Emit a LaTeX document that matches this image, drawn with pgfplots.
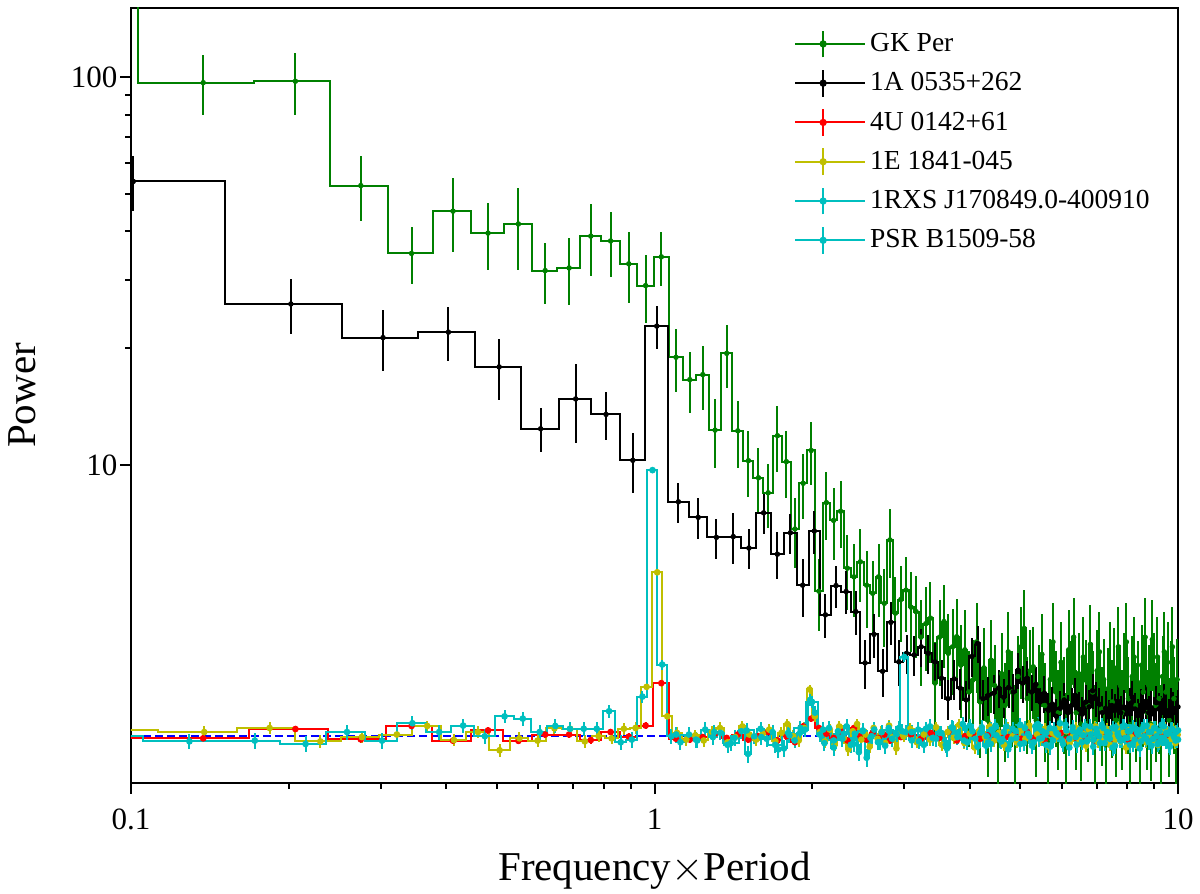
\documentclass[border=0pt]{standalone}
\usepackage{fontspec}
\setmainfont{Liberation Serif}
\usepackage{pgfplots}
\pgfplotsset{compat=1.18}
\usepackage{pgfplotstable}
\usetikzlibrary{calc}

\definecolor{gkgreen}{RGB}{0,128,0}
\definecolor{yel}{RGB}{191,191,0}
\definecolor{cyn}{RGB}{0,191,191}

% GK Per: bin centre, power, error (bins 0.0687 wide)
\pgfplotstableread{
x y e
0.0687 300 40
0.1374 96.7 17
0.2061 97.5 17.5
0.2748 52.5 10
0.3435 35.1 5.9
0.4122 45.1 9.8
0.4809 39.6 7.7
0.5496 41.8 10
0.6183 31.7 5.7
0.6870 32.2 6.3
0.7557 38.9 8.2
0.8244 37.8 7.2
0.8931 33.0 6.9
0.9618 29.0 5.8
1.0305 34.4 5.5
1.0992 18.95 3.5
1.1679 16.6 3.0
1.2366 17.1 3.2
1.3053 12.3 2.5
1.3740 19.4 3.6
1.4427 12.25 2.4
1.5114 10.26 2.0
1.5801 9.27 1.8
1.6488 8.48 1.6
1.7175 11.9 2.3
1.7862 10.2 2.0
1.8549 6.84 1.4
1.9236 8.97 1.7
1.9923 10.9 2.0
2.0610 4.73 1.0
2.1297 8.0 1.6
2.1984 7.2 1.5
2.2671 7.6 1.5
2.3358 5.42 1.2
2.4045 5.15 1.1
2.4732 5.63 1.2
2.5419 4.9 1.1
2.6106 4.67 1.0
2.6793 5.15 1.1
2.7480 4.4 1.0
2.8167 6.41 1.3
2.8854 4.15 1.0
2.9541 4.5 1.0
3.0228 4.76 1.05
3.0915 4.3 1.0
3.1602 4.19 1.0
3.2289 3.6 0.9
3.2976 3.9 0.95
3.3663 4.03 0.95
3.4350 2.74 0.75
3.5037 3.6 0.9
3.5724 3.95 0.95
3.6411 3.27 0.85
3.7098 3.4 0.85
3.7785 3.61 0.9
3.847 3.05 0.82
3.916 3.34 0.88
3.985 2.6 0.72
4.053 2.79 0.76
4.122 3.5 0.92
4.191 2.45 0.69
4.259 3.0 0.81
4.328 2.2 0.63
4.397 3.14 0.84
4.466 2.7 0.74
4.534 2.05 0.6
4.603 2.9 0.79
4.672 2.4 0.68
4.740 3.3 0.88
4.809 2.6 0.72
4.878 2.1 0.61
4.946 2.85 0.78
5.015 3.4 0.9
5.084 3.79 0.98
5.152 2.5 0.7
5.221 2.95 0.8
5.290 3.02 0.81
5.359 2.2 0.63
5.427 2.7 0.74
5.496 3.25 0.87
5.565 2.4 0.68
5.633 1.95 0.58
5.702 2.8 0.77
5.771 3.5 0.92
5.839 2.6 0.72
5.908 2.3 0.66
5.977 3.1 0.83
6.046 2.5 0.7
6.114 2.0 0.59
6.183 3.34 0.88
6.252 2.75 0.76
6.320 3.6 0.94
6.389 2.3 0.66
6.458 2.9 0.79
6.526 2.15 0.62
6.595 3.2 0.85
6.664 2.79 0.76
6.733 2.4 0.68
6.801 3.45 0.91
6.870 2.6 0.72
6.939 2.1 0.61
7.007 2.95 0.8
7.076 3.3 0.88
7.145 2.35 0.67
7.213 2.8 0.77
7.282 1.9 0.57
7.351 2.65 0.73
7.420 3.1 0.83
7.488 2.45 0.69
7.557 3.0 0.81
7.626 2.2 0.63
7.694 3.4 0.9
7.763 2.7 0.74
7.832 2.3 0.66
7.900 2.9 0.79
7.969 3.5 0.92
8.038 2.5 0.7
8.107 2.05 0.6
8.175 2.85 0.78
8.244 3.2 0.85
8.313 2.4 0.68
8.381 2.75 0.76
8.450 2.0 0.59
8.519 3.05 0.82
8.587 2.6 0.72
8.656 3.6 0.94
8.725 2.3 0.66
8.794 2.7 0.74
8.862 2.15 0.62
8.931 3.55 0.93
9.000 2.9 0.79
9.068 2.4 0.68
9.137 3.2 0.85
9.206 2.5 0.7
9.274 2.1 0.61
9.343 2.85 0.78
9.412 3.3 0.88
9.480 2.6 0.72
9.549 3.1 0.83
9.618 2.2 0.63
9.687 2.75 0.76
9.755 3.4 0.9
9.824 2.5 0.7
9.893 2.0 0.59
9.961 2.8 0.77
10.030 2.8 0.77
}\gkper

% 1A 0535+262: bin centre, power, error (bins 0.101 wide)
\pgfplotstableread{
x y e
0.101 53.8 8.7
0.202 26.0 4.2
0.303 21.3 3.8
0.404 22.0 3.5
0.505 17.9 3.2
0.606 12.4 1.6
0.707 14.8 3.4
0.808 13.5 1.9
0.909 10.28 1.8
1.010 22.8 2.9
1.111 8.04 0.97
1.212 7.33 0.88
1.313 6.51 0.77
1.414 6.54 0.98
1.515 6.11 0.73
1.616 7.53 0.88
1.717 5.89 0.82
1.818 6.69 0.8
1.919 4.9 0.84
2.020 6.76 0.85
2.121 4.11 0.53
2.222 4.89 0.6
2.323 4.72 0.6
2.424 4.19 0.55
2.525 3.09 0.45
2.626 3.66 0.48
2.727 2.94 0.42
2.828 3.93 0.5
2.929 3.11 0.42
3.030 3.27 0.38
3.131 3.24 0.38
3.232 3.40 0.38
3.333 3.27 0.38
3.434 3.11 0.36
3.535 2.82 0.33
3.636 2.50 0.3
3.737 2.81 0.33
3.838 2.66 0.32
3.939 2.48 0.3
4.040 3.21 0.37
4.141 3.47 0.38
4.242 2.50 0.3
4.343 2.55 0.3
4.444 2.58 0.3
4.545 2.66 0.3
4.646 2.52 0.29
4.747 2.67 0.3
4.848 2.60 0.29
4.949 2.96 0.32
5.050 2.74 0.3
5.151 2.82 0.3
5.252 2.60 0.28
5.353 2.72 0.29
5.454 2.45 0.27
5.555 2.58 0.28
5.656 2.33 0.26
5.757 2.42 0.26
5.858 2.25 0.25
5.959 2.36 0.26
6.060 2.48 0.27
6.161 2.30 0.25
6.262 2.40 0.26
6.363 2.55 0.27
6.464 2.35 0.25
6.565 2.28 0.25
6.666 2.45 0.26
6.767 2.38 0.25
6.868 2.62 0.27
6.969 2.50 0.26
7.070 2.42 0.25
7.171 2.30 0.24
7.272 2.36 0.25
7.373 2.24 0.24
7.474 2.40 0.25
7.575 2.33 0.24
7.676 2.46 0.25
7.777 2.30 0.24
7.878 2.38 0.25
7.979 2.28 0.24
8.080 2.42 0.25
8.181 2.52 0.26
8.282 2.35 0.24
8.383 2.26 0.24
8.484 2.40 0.25
8.585 2.32 0.24
8.686 2.46 0.25
8.787 2.30 0.24
8.888 2.37 0.24
8.989 2.28 0.24
9.090 2.44 0.25
9.191 2.35 0.24
9.292 2.30 0.24
9.393 2.48 0.25
9.494 2.33 0.24
9.595 2.26 0.24
9.696 2.41 0.25
9.797 2.36 0.24
9.898 2.30 0.24
9.999 2.38 0.25
10.100 2.38 0.25
}\onea

% 4U 0142+61
\pgfplotstableread{
x y
0.0687 1.97
0.1374 1.975
0.2061 2.087
0.2748 1.963
0.3435 2.125
0.4122 1.948
0.4809 2.07
0.5496 1.946
0.6183 2.02
0.6870 2.02
0.7557 1.955
0.8244 2.05
0.8931 1.995
0.9618 2.13
1.0305 2.74
1.0992 1.97
1.1679 1.96
1.2366 1.99
1.3053 2.03
1.3740 1.98
1.4427 2.02
1.5114 1.96
1.5801 2.0
1.6488 2.05
1.7175 1.95
1.7862 2.0
1.8549 1.93
1.9236 2.12
1.9923 2.22
2.0610 2.1
2.1297 2.03
2.1984 1.98
2.2671 2.06
2.3358 1.95
2.4045 2.1
2.4732 2.0
2.5419 1.96
2.6106 2.04
2.6793 1.98
2.7480 2.02
2.8167 1.95
2.8854 2.03
2.9541 1.99
3.09 2.02
3.23 1.97
3.37 2.04
3.50 1.98
3.64 2.05
3.78 1.95
3.92 2.0
4.06 2.03
4.19 1.97
4.33 2.01
4.47 1.96
4.60 2.04
4.74 1.99
4.88 2.02
5.02 1.97
5.15 2.05
5.29 1.98
5.43 2.0
5.56 1.95
5.70 2.03
5.84 1.99
5.98 2.04
6.11 1.96
6.25 2.01
6.39 1.98
6.53 2.05
6.66 1.97
6.80 2.0
6.94 1.95
7.08 2.03
7.21 1.99
7.35 2.06
7.49 1.97
7.63 2.01
7.76 1.98
7.90 2.04
8.04 1.96
8.18 2.0
8.31 2.03
8.45 1.97
8.59 2.02
8.73 1.98
8.86 2.05
9.00 1.99
9.14 1.96
9.28 2.02
9.41 2.0
9.55 1.97
9.69 2.04
9.83 1.99
9.96 2.01
}\fouru

% 1E 1841-045
\pgfplotstableread{
x y
0.046 2.07
0.092 2.07
0.138 2.05
0.184 2.10
0.230 1.94
0.276 1.99
0.322 2.02
0.368 2.125
0.414 1.955
0.460 2.05
0.506 1.84
0.552 1.975
0.598 1.948
0.644 2.095
0.690 2.09
0.736 1.94
0.782 2.0
0.828 1.975
0.874 2.09
0.920 2.1
0.966 2.68
1.012 5.29
1.058 2.25
1.104 2.04
1.150 1.96
1.196 2.01
1.242 1.95
1.288 2.05
1.334 2.1
1.380 1.93
1.426 1.99
1.472 2.12
1.518 2.02
1.564 1.96
1.610 2.03
1.656 2.08
1.702 1.94
1.748 2.04
1.794 2.15
1.840 2.0
1.886 1.95
1.932 2.1
1.978 2.64
2.024 2.25
2.070 2.05
2.116 1.94
2.162 2.08
2.208 1.9
2.254 2.12
2.300 1.98
2.346 1.85
2.392 2.06
2.438 2.15
2.484 1.96
2.530 2.02
2.576 1.88
2.622 2.1
2.668 1.97
2.714 2.05
2.760 1.92
2.806 2.13
2.852 1.99
2.898 1.86
2.944 2.04
2.990 2.0
3.08 2.09
3.17 1.93
3.27 2.02
3.36 1.96
3.45 2.11
3.54 1.9
3.63 2.05
3.73 1.98
3.82 2.14
3.91 1.92
4.00 2.03
4.09 1.87
4.19 2.08
4.28 1.99
4.37 2.12
4.46 1.95
4.55 2.04
4.65 1.9
4.74 2.1
4.83 2.0
4.92 1.93
5.01 2.07
5.11 1.97
5.20 2.13
5.29 1.91
5.38 2.02
5.47 1.96
5.57 2.09
5.66 1.88
5.75 2.04
5.84 1.99
5.93 2.11
6.03 1.94
6.12 2.06
6.21 1.92
6.30 2.0
6.39 2.1
6.49 1.95
6.58 2.03
6.67 1.89
6.76 2.08
6.85 1.97
6.95 2.12
7.04 1.93
7.13 2.05
7.22 1.98
7.31 2.09
7.41 1.9
7.50 2.02
7.59 1.96
7.68 2.11
7.77 1.94
7.87 2.04
7.96 1.87
8.05 2.07
8.14 1.99
8.23 2.1
8.33 1.92
8.42 2.03
8.51 1.96
8.60 2.08
8.69 1.93
8.79 2.01
8.88 2.12
8.97 1.95
9.06 2.05
9.15 1.9
9.25 2.06
9.34 1.98
9.43 2.1
9.52 1.94
9.61 2.03
9.71 1.97
9.80 2.09
9.89 1.92
9.98 2.02
}\onee

% 1RXS J170849.0-400910
\pgfplotstableread{
x y
0.0431 2.0
0.0862 2.0
0.1293 1.94
0.1724 1.948
0.2155 1.91
0.2586 2.05
0.3017 1.948
0.3448 2.16
0.3879 2.05
0.4310 2.13
0.4741 2.0
0.5172 2.25
0.5603 2.22
0.6034 2.05
0.6465 2.125
0.6896 2.09
0.7327 2.09
0.7758 2.09
0.8189 2.32
0.8620 1.93
0.9051 1.96
0.9482 2.53
0.9913 9.7
1.0344 3.06
1.0775 2.0
1.1206 1.93
1.1637 2.02
1.2068 1.95
1.2499 2.08
1.2930 1.99
1.3361 2.04
1.3792 1.9
1.4223 1.98
1.4654 2.06
1.5085 1.8
1.5516 2.0
1.5947 2.09
1.6378 1.97
1.6809 2.05
1.7240 1.85
1.7671 1.86
1.8102 2.01
1.8533 1.95
1.8964 2.04
1.9395 2.08
1.9826 2.48
2.0257 2.3
2.0688 2.02
2.1119 1.92
2.1550 2.1
2.1981 1.87
2.2412 2.06
2.2843 1.97
2.3274 2.12
2.3705 1.9
2.4136 2.03
2.4567 1.82
2.4998 2.07
2.5429 1.76
2.5860 1.98
2.6291 2.08
2.6722 1.93
2.7153 2.05
2.7584 1.89
2.8015 2.1
2.8446 1.97
2.8877 2.04
2.9308 2.1
2.9739 2.06
3.0170 2.05
3.10 1.95
3.19 2.08
3.27 1.9
3.36 2.12
3.45 1.97
3.53 2.04
3.62 1.86
3.71 2.1
3.79 1.99
3.88 2.15
3.96 1.93
4.05 2.06
4.14 1.88
4.22 2.11
4.31 2.0
4.39 1.91
4.48 2.13
4.57 1.96
4.65 2.05
4.74 1.85
4.83 2.09
4.91 1.98
5.00 2.14
5.08 1.92
5.17 2.03
5.26 1.89
5.34 2.12
5.43 1.97
5.51 2.06
5.60 1.9
5.69 2.1
5.77 1.95
5.86 2.04
5.95 2.16
6.03 1.91
6.12 2.07
6.20 1.87
6.29 2.11
6.38 1.99
6.46 2.05
6.55 1.93
6.64 2.13
6.72 1.96
6.81 2.02
6.89 1.88
6.98 2.09
7.07 2.0
7.15 2.14
7.24 1.92
7.33 2.05
7.41 1.97
7.50 2.1
7.58 1.89
7.67 2.03
7.76 1.95
7.84 2.12
7.93 1.98
8.02 2.06
8.10 1.9
8.19 2.11
8.27 1.96
8.36 2.04
8.45 1.86
8.53 2.08
8.62 2.0
8.71 2.13
8.79 1.93
8.88 2.05
8.96 1.97
9.05 2.1
9.14 1.91
9.22 2.06
9.31 1.98
9.40 2.12
9.48 1.94
9.57 2.03
9.65 1.88
9.74 2.09
9.83 1.99
9.91 2.05
10.0 1.96
}\onerxs

% PSR B1509-58
\pgfplotstableread{
x y
1.1 2.02
1.2 1.96
1.3 2.05
1.4 1.92
1.5 2.07
1.6 1.99
1.7 1.9
1.8 2.04
1.9 2.1
2.0 2.45
2.1 2.08
2.2 1.95
2.3 2.03
2.4 1.91
2.5 2.06
2.6 2.0
2.7 1.93
2.8 2.07
2.9 2.02
3.0 3.2
3.1 2.05
3.2 1.94
3.3 2.09
3.4 1.98
3.5 2.04
3.6 1.9
3.7 2.11
3.8 2.0
3.9 1.95
4.0 2.13
4.1 1.97
4.2 2.05
4.3 1.89
4.4 2.08
4.5 2.01
4.6 1.94
4.7 2.12
4.8 1.96
4.9 2.06
5.0 1.91
5.1 2.1
5.2 2.0
5.3 1.93
5.4 2.15
5.5 1.98
5.6 2.04
5.7 1.88
5.8 2.09
5.9 2.02
6.0 1.95
6.1 2.14
6.2 1.97
6.3 2.06
6.4 1.9
6.5 2.08
6.6 2.01
6.7 1.94
6.8 2.12
6.9 1.96
7.0 2.05
7.1 1.92
7.2 2.1
7.3 1.99
7.4 2.03
7.5 1.87
7.6 2.11
7.7 2.0
7.8 1.95
7.9 2.13
8.0 1.98
8.1 2.06
8.2 1.91
8.3 2.09
8.4 2.02
8.5 1.94
8.6 2.12
8.7 1.97
8.8 2.05
8.9 1.89
9.0 2.1
9.1 2.0
9.2 1.93
9.3 2.14
9.4 1.98
9.5 2.04
9.6 1.9
9.7 2.08
9.8 2.01
9.9 1.95
10.0 2.07
}\psr

\pgfplotsset{
  series/.style={line width=1pt, const plot mark mid, mark=*, mark size=1.15pt, mark options={solid}},
  steps/.style={line width=1pt, const plot mark left, mark=none},
  pts/.style={only marks, mark=*, mark size=1.15pt, mark options={solid}},
}

\begin{document}
\begin{tikzpicture}
\begin{axis}[
  scale only axis, width=523.5pt, height=387.5pt,
  xmode=log, ymode=log,
  xmin=0.1, xmax=10, ymin=1.515, ymax=150.6,
  xtick={0.1,1,10}, xticklabels={0.1,1,10},
  ytick={10,100}, yticklabels={10,100},
  tick align=outside, tick pos=left,
  major tick length=5.3pt, minor tick length=2.8pt,
  every tick/.style={black, line width=1pt},
  axis line style={line width=1pt},
  tick label style={font=\fontsize{15.5}{18}\selectfont},
  xticklabel style={yshift=-4pt},
  yticklabel style={xshift=2pt},
  label style={font=\fontsize{20.5}{24}\selectfont},
  xlabel={Frequency$\times$Period}, ylabel={Power},
  xlabel style={at={(axis description cs:0.5,-0.1252)}, anchor=base},
  ylabel style={at={(axis description cs:-0.1041,0.5)}, anchor=center},
  legend style={at={(axis description cs:0.633,0.973)}, anchor=north west,
    draw=none, fill=none, font=\fontsize{13.75}{16}\selectfont,
    row sep=5pt, inner sep=0pt, nodes={inner sep=2pt}},
  legend cell align=left,
  legend image code/.code={
    \draw[#1, mark=none, solid, line width=1pt] (0pt,0pt) -- (28pt,0pt);
    \draw[#1, mark=none, solid, line width=1pt] (14pt,-6.7pt) -- (14pt,6.7pt);
    \fill[#1] (14pt,0pt) circle (1.3pt);
    \path (0pt,0pt) -- (35pt,0pt);
  },
]
% GK Per: histogram steps from bin left edges, points with errors at bin centres
\addplot[steps, gkgreen] table[x expr=\thisrow{x}-0.03435, y=y] {\gkper};
\addlegendentry{GK Per}
\addplot[pts, gkgreen, forget plot, error bars/.cd, y dir=both, y explicit, error mark=none, error bar style={line width=1pt}]
  table[x=x, y=y, y error=e] {\gkper};
% 1A 0535+262
\addplot[steps, black] table[x expr=\thisrow{x}-0.0505, y=y] {\onea};
\addlegendentry{1A 0535+262}
\addplot[pts, black, forget plot, error bars/.cd, y dir=both, y explicit, error mark=none, error bar style={line width=1pt}]
  table[x=x, y=y, y error=e] {\onea};
\addplot[blue, dash pattern=on 4pt off 2pt, line width=0.9pt, forget plot] coordinates {(0.1,2) (10,2)};
\addplot[series, red, error bars/.cd, y dir=both, y fixed=0.04, error mark=none, error bar style={line width=1pt}]
  table[x=x, y=y] {\fouru};
\addlegendentry{4U 0142+61}
\addplot[series, yel, error bars/.cd, y dir=both, y fixed=0.07, error mark=none, error bar style={line width=1pt}]
  table[x=x, y=y] {\onee};
\addlegendentry{1E 1841-045}
\addplot[series, cyn, error bars/.cd, y dir=both, y fixed=0.09, error mark=none, error bar style={line width=1pt}]
  table[x=x, y=y] {\onerxs};
\addlegendentry{1RXS J170849.0-400910}
\addplot[series, cyn, error bars/.cd, y dir=both, y fixed=0.09, error mark=none, error bar style={line width=1pt}]
  table[x=x, y=y] {\psr};
\addlegendentry{PSR B1509-58}
\end{axis}
\pgfresetboundingbox
\path[use as bounding box] ($(current axis.south west)+(-65.5pt,-55pt)$) rectangle ($(current axis.north east)+(11pt,4pt)$);
\end{tikzpicture}
\end{document}
